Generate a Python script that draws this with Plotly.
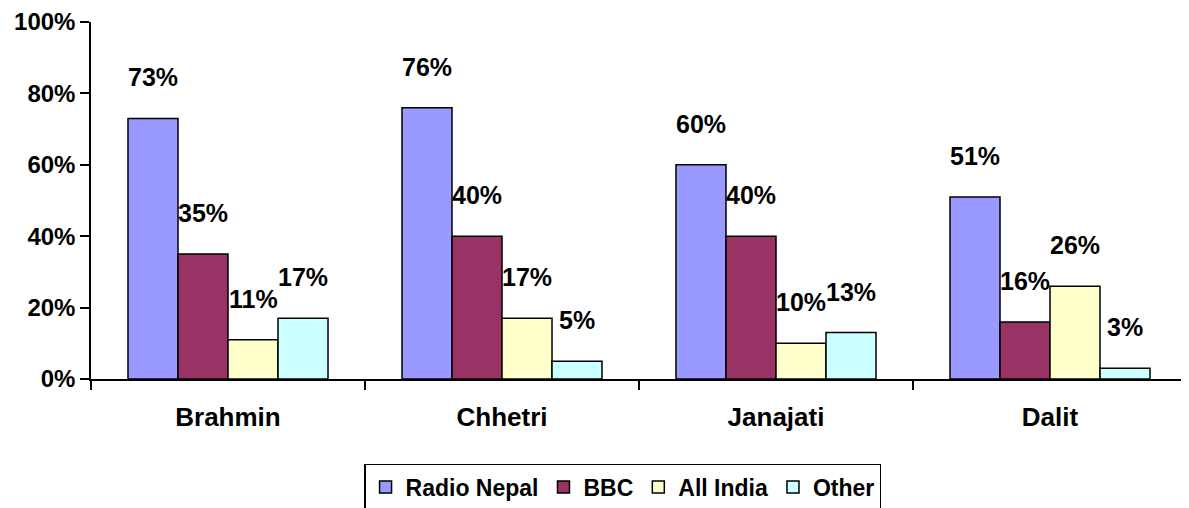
import plotly.graph_objects as go

categories = ["Brahmin", "Chhetri", "Janajati", "Dalit"]
series_names = ["Radio Nepal", "BBC", "All India", "Other"]
radio_nepal = [73, 76, 60, 51]
bbc = [35, 40, 40, 16]
all_india = [11, 17, 10, 26]
other = [17, 5, 13, 3]
colors = ["#9999FF", "#993366", "#FFFFCC", "#CCFFFF"]
y_ticks = [0, 20, 40, 60, 80, 100]

FONT = "Liberation Sans, Arial, sans-serif"
series = [radio_nepal, bbc, all_india, other]

fig = go.Figure()
for name, vals, col in zip(series_names, series, colors):
    fig.add_trace(go.Bar(
        name=name, x=categories, y=vals,
        marker=dict(color=col, line=dict(color="black", width=1.5)),
    ))

bar_px = 50
annotations = []
for i, vals in enumerate(series):
    for c, v in zip(categories, vals):
        annotations.append(dict(
            x=c, y=v, xref="x", yref="y", text=f"{v}%", showarrow=False,
            xshift=(i - 1.5) * bar_px, yshift=41,
            font=dict(family=FONT, size=25, color="black", weight="bold"),
        ))

fig.update_layout(
    width=1181, height=500,
    margin=dict(l=83, r=2, t=14, b=129, autoexpand=False),
    paper_bgcolor="white", plot_bgcolor="white",
    barmode="group", bargap=0.27, bargroupgap=0,
    annotations=annotations,
    showlegend=True,
    legend=dict(
        orientation="h", x=0.485, xanchor="center", y=-0.238, yanchor="top",
        bordercolor="black", borderwidth=1.5,
        font=dict(family=FONT, size=23, color="black", weight="bold"),
        itemwidth=30, tracegroupgap=0,
    ),
    xaxis=dict(
        type="category", tickson="boundaries", ticks="outside", ticklen=9,
        tickcolor="black", tickwidth=1.5, ticklabelstandoff=14,
        showline=True, linecolor="black", linewidth=1.5,
        showgrid=False, zeroline=False, automargin=False,
        tickfont=dict(family=FONT, size=26, color="black", weight="bold"),
    ),
    yaxis=dict(
        range=[0, 100], tickvals=y_ticks, ticktext=[f"{t}%" for t in y_ticks],
        ticks="outside", ticklen=9, tickcolor="black", tickwidth=1.5,
        ticklabeloverflow="allow", automargin=False,
        showline=True, linecolor="black", linewidth=1.5,
        showgrid=False, zeroline=False,
        tickfont=dict(family=FONT, size=24, color="black", weight="bold"),
    ),
)

fig.write_html("out.html")
